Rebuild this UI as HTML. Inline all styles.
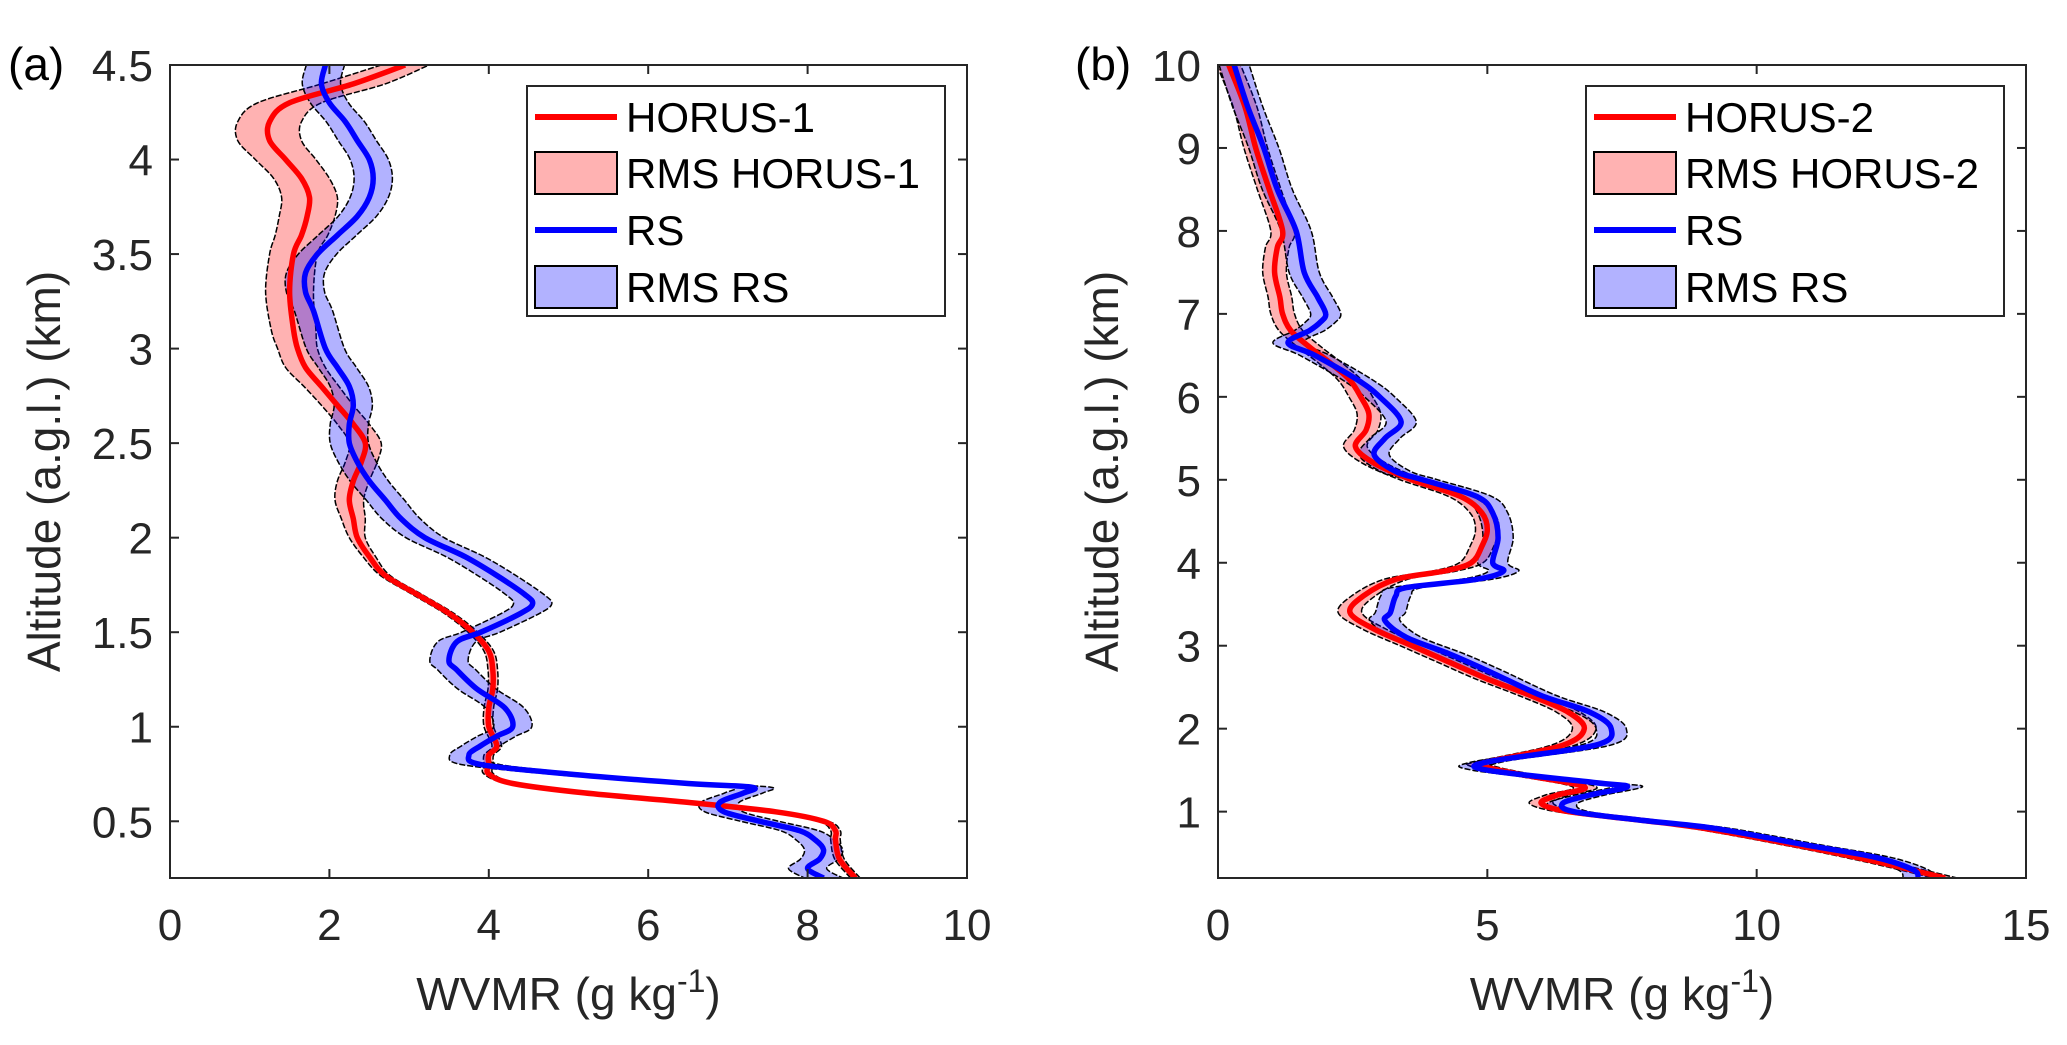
<!DOCTYPE html>
<html><head><meta charset="utf-8"><style>
html,body{margin:0;padding:0;background:#fff;}
svg{display:block;font-family:"Liberation Sans",Arial,sans-serif;}
</style></head><body>
<svg id="fig" width="2067" height="1045" viewBox="0 0 2067 1045">
<defs>
<clipPath id="clipA"><rect x="170" y="65" width="797" height="813"/></clipPath>
<clipPath id="clipB"><rect x="1218" y="65" width="808" height="813"/></clipPath>
</defs>
</svg>
<script>
// Panel (a) data
const altA_H1=[4.5,4.4,4.3,4.2,4.1,4.0,3.9,3.8,3.7,3.6,3.5,3.3,3.1,3.0,2.9,2.8,2.7,2.6,2.5,2.4,2.3,2.2,2.1,2.0,1.9,1.8,1.7,1.6,1.5,1.4,1.3,1.2,1.1,1.0,0.9,0.85,0.8,0.75,0.7,0.65,0.6,0.55,0.5,0.45,0.4,0.3,0.2];
const wvA_H1=[2.95,2.3,1.5,1.25,1.25,1.45,1.65,1.75,1.72,1.65,1.55,1.5,1.55,1.6,1.7,1.9,2.1,2.3,2.45,2.4,2.3,2.25,2.3,2.35,2.5,2.7,3.1,3.5,3.8,4.0,4.05,4.05,4.0,4.0,4.1,4.0,4.0,4.0,4.3,5.2,6.5,7.6,8.2,8.35,8.35,8.4,8.6];
const rmsA_H1=[0.3,0.4,0.4,0.4,0.4,0.38,0.35,0.35,0.35,0.33,0.3,0.3,0.28,0.25,0.25,0.22,0.2,0.2,0.2,0.2,0.2,0.18,0.15,0.1,0.08,0.06,0.06,0.06,0.06,0.06,0.06,0.06,0.06,0.06,0.06,0.06,0.06,0.06,0.06,0.06,0.06,0.06,0.06,0.06,0.06,0.06,0.06];
const altA_RS=[4.5,4.4,4.3,4.2,4.1,4.0,3.9,3.8,3.7,3.6,3.5,3.4,3.3,3.2,3.0,2.9,2.8,2.7,2.6,2.5,2.4,2.3,2.2,2.1,2.0,1.9,1.8,1.7,1.65,1.6,1.5,1.45,1.35,1.3,1.2,1.1,1.0,0.95,0.9,0.85,0.8,0.75,0.7,0.68,0.65,0.6,0.55,0.5,0.45,0.4,0.35,0.3,0.25,0.2];
const wvA_RS=[1.95,1.9,2.0,2.2,2.35,2.5,2.55,2.5,2.35,2.1,1.85,1.7,1.7,1.8,1.95,2.1,2.25,2.3,2.25,2.25,2.35,2.5,2.7,2.9,3.2,3.7,4.1,4.45,4.55,4.4,3.9,3.6,3.5,3.6,3.85,4.2,4.3,4.1,3.9,3.75,3.9,5.0,6.5,7.3,7.2,6.9,6.95,7.4,7.9,8.1,8.2,8.15,8.0,8.2];
const rmsA_RS=0.24;
// Panel (b) data
const altB_H2=[10,9.5,9.0,8.5,8.0,7.8,7.5,7.2,7.0,6.8,6.6,6.4,6.2,6.0,5.8,5.6,5.4,5.2,5.0,4.8,4.6,4.4,4.2,4.0,3.9,3.8,3.6,3.4,3.2,3.0,2.8,2.6,2.4,2.2,2.0,1.8,1.6,1.55,1.45,1.3,1.2,1.1,1.0,0.9,0.8,0.6,0.4,0.2];
const wvB_H2=[0.2,0.5,0.7,0.95,1.2,1.1,1.05,1.15,1.2,1.35,1.7,2.1,2.45,2.65,2.8,2.75,2.55,2.9,3.6,4.5,4.9,5.0,4.9,4.7,4.2,3.3,2.7,2.45,2.9,3.6,4.3,5.0,5.8,6.5,6.8,6.4,5.0,4.9,5.6,6.8,6.3,6.0,6.5,7.8,9.0,10.7,12.2,13.5];
const rmsB_H2=0.22;
const altB_RS=[10,9.5,9.0,8.5,8.0,7.5,7.2,7.0,6.9,6.8,6.65,6.5,6.2,6.0,5.7,5.5,5.3,5.1,5.0,4.8,4.6,4.3,4.0,3.9,3.8,3.7,3.6,3.4,3.3,3.1,2.9,2.7,2.4,2.2,2.0,1.8,1.6,1.5,1.35,1.3,1.2,1.1,1.0,0.9,0.8,0.6,0.45,0.3,0.2];
const wvB_RS=[0.3,0.55,0.85,1.1,1.45,1.6,1.85,2.0,1.9,1.7,1.3,1.8,2.6,3.0,3.4,3.1,2.9,3.3,3.8,4.8,5.1,5.2,5.1,5.3,4.8,3.5,3.3,3.2,3.1,3.5,4.3,5.0,6.0,6.9,7.3,7.0,5.0,5.0,7.0,7.6,6.9,6.4,6.6,7.8,9.2,10.9,12.2,12.9,13.0];
const rmsB_RS=0.28;
const ticksAx=[0,2,4,6,8,10], ticksAy=[0.5,1,1.5,2,2.5,3,3.5,4,4.5], labelsAy=["0.5","1","1.5","2","2.5","3","3.5","4","4.5"];
const ticksBx=[0,5,10,15], ticksBy=[1,2,3,4,5,6,7,8,9,10];

const NS="http://www.w3.org/2000/svg";
const svg=document.getElementById('fig');
function mk(tag,attrs,parent){const e=document.createElementNS(NS,tag);for(const k in attrs)e.setAttribute(k,attrs[k]);(parent||svg).appendChild(e);return e;}

function panel(cfg){
  const sx=v=>cfg.x0+(v-cfg.xmin)/(cfg.xmax-cfg.xmin)*(cfg.x1-cfg.x0);
  const sy=v=>cfg.y1-(v-cfg.ymin)/(cfg.ymax-cfg.ymin)*(cfg.y1-cfg.y0);
  const g=mk('g',{});
  
  
  const plot=mk('g',{'clip-path':'url(#'+cfg.clip+')'},g);
  
  
  function smooth(pts){
    let d='M'+pts[0][0].toFixed(1)+','+pts[0][1].toFixed(1);
    for(let i=0;i<pts.length-1;i++){
      const p0=pts[Math.max(0,i-1)],p1=pts[i],p2=pts[i+1],p3=pts[Math.min(pts.length-1,i+2)];
      const c1=[p1[0]+(p2[0]-p0[0])/6,p1[1]+(p2[1]-p0[1])/6];
      const c2=[p2[0]-(p3[0]-p1[0])/6,p2[1]-(p3[1]-p1[1])/6];
      d+='C'+c1[0].toFixed(1)+','+c1[1].toFixed(1)+' '+c2[0].toFixed(1)+','+c2[1].toFixed(1)+' '+p2[0].toFixed(1)+','+p2[1].toFixed(1);
    }
    return d;
  }
  cfg.series.forEach(s=>{
    const w=i=>Array.isArray(s.rms)?s.rms[i]:s.rms;
    const left=s.alt.map((a,i)=>[sx(s.wv[i]-w(i)),sy(a)]);
    const right=s.alt.map((a,i)=>[sx(s.wv[i]+w(i)),sy(a)]).reverse();
    const dl=smooth(left), dr=smooth(right).replace(/^M/,'L');
    const band=mk('path',{d:dl+dr+'Z',fill:s.fill,'fill-opacity':'0.3',stroke:'#000','stroke-width':'1.5','stroke-dasharray':'6,2'},plot);
    
    
  });
  cfg.series.forEach(s=>{
    const pts=s.alt.map((a,i)=>[sx(s.wv[i]),sy(a)]);
    const ln=mk('path',{d:smooth(pts),fill:'none',stroke:s.color,'stroke-width':'5.5','stroke-linejoin':'round'},plot);
    
    
  });
  const box=mk('rect',{x:cfg.x0,y:cfg.y0,width:cfg.x1-cfg.x0,height:cfg.y1-cfg.y0,fill:'none',stroke:'#262626','stroke-width':'2'},g);
  
  
  cfg.xt.forEach(v=>{
    const X=sx(v);
    mk('line',{x1:X,x2:X,y1:cfg.y1,y2:cfg.y1-9,stroke:'#262626','stroke-width':'2'},g);
    mk('line',{x1:X,x2:X,y1:cfg.y0,y2:cfg.y0+9,stroke:'#262626','stroke-width':'2'},g);
    const t=mk('text',{x:X,y:cfg.y1+62,'text-anchor':'middle','font-size':'44',fill:'#262626'},g);
    t.textContent=String(v);
    
    
  });
  cfg.yt.forEach((v,i)=>{
    const Y=sy(v);
    mk('line',{x1:cfg.x0,x2:cfg.x0+9,y1:Y,y2:Y,stroke:'#262626','stroke-width':'2'},g);
    mk('line',{x1:cfg.x1,x2:cfg.x1-9,y1:Y,y2:Y,stroke:'#262626','stroke-width':'2'},g);
    const t=mk('text',{x:cfg.x0-17,y:Y+16,'text-anchor':'end','font-size':'44',fill:'#262626'},g);
    t.textContent=cfg.yl[i];
    
    
  });
  const xt=mk('text',{x:(cfg.x0+cfg.x1)/2,y:1010,'text-anchor':'middle','font-size':'46',fill:'#262626'},g);
  xt.innerHTML='WVMR (g kg<tspan dy="-18" font-size="32">-1</tspan><tspan dy="18">)</tspan>';
  
  
  const yx=cfg.ytx, yy=(cfg.y0+cfg.y1)/2;
  const yt=mk('text',{x:yx,y:yy,'text-anchor':'middle','font-size':'46',fill:'#262626',transform:'rotate(-90 '+yx+' '+yy+')'},g);
  yt.textContent='Altitude (a.g.l.) (km)';
  
  
  const pl=mk('text',{x:cfg.plx,y:80,'font-size':'46',fill:'#000'},g);
  pl.textContent=cfg.panelLabel;
  
  
  // legend
  const lg=mk('g',{},g);
  
  
  const L=cfg.lx, T=86, W=418, H=230;
  mk('rect',{x:L,y:T,width:W,height:H,fill:'#fff',stroke:'#262626','stroke-width':'2'},lg);
  const rows=[117,173,230,287];
  cfg.legend.forEach((e,i)=>{
    const ent=mk('g',{},lg);
    
    
    if(e.type==='line'){
      mk('line',{x1:L+8,x2:L+90,y1:rows[i],y2:rows[i],stroke:e.color,'stroke-width':'6'},ent);
    }else{
      mk('rect',{x:L+8,y:rows[i]-21,width:82,height:42,fill:e.color,'fill-opacity':'0.3',stroke:'#000','stroke-width':'2'},ent);
    }
    const t=mk('text',{x:L+99,y:rows[i]+15,'font-size':'42',fill:'#000'},ent);
    t.textContent=e.label;
  });
}

panel({name:'panel-a',clip:'clipA',x0:170,x1:967,y0:65,y1:878,xmin:0,xmax:10,ymin:0.2,ymax:4.5,
  xt:ticksAx,yt:ticksAy,yl:labelsAy,ytx:60,plx:8,panelLabel:'(a)',lx:527,
  series:[{key:'horus-1',alt:altA_H1,wv:wvA_H1,rms:rmsA_H1,color:'#ff0000',fill:'#ff0000'},
          {key:'rs-a',alt:altA_RS,wv:wvA_RS,rms:rmsA_RS,color:'#0000ff',fill:'#0000ff'}],
  legend:[{type:'line',color:'#ff0000',label:'HORUS-1'},{type:'patch',color:'#ff0000',label:'RMS HORUS-1'},{type:'line',color:'#0000ff',label:'RS'},{type:'patch',color:'#0000ff',label:'RMS RS'}]});
panel({name:'panel-b',clip:'clipB',x0:1218,x1:2026,y0:65,y1:878,xmin:0,xmax:15,ymin:0.2,ymax:10,
  xt:ticksBx,yt:ticksBy,yl:ticksBy.map(String),ytx:1118,plx:1075,panelLabel:'(b)',lx:1586,
  series:[{key:'horus-2',alt:altB_H2,wv:wvB_H2,rms:rmsB_H2,color:'#ff0000',fill:'#ff0000'},
          {key:'rs-b',alt:altB_RS,wv:wvB_RS,rms:rmsB_RS,color:'#0000ff',fill:'#0000ff'}],
  legend:[{type:'line',color:'#ff0000',label:'HORUS-2'},{type:'patch',color:'#ff0000',label:'RMS HORUS-2'},{type:'line',color:'#0000ff',label:'RS'},{type:'patch',color:'#0000ff',label:'RMS RS'}]});
</script>
</body></html>
